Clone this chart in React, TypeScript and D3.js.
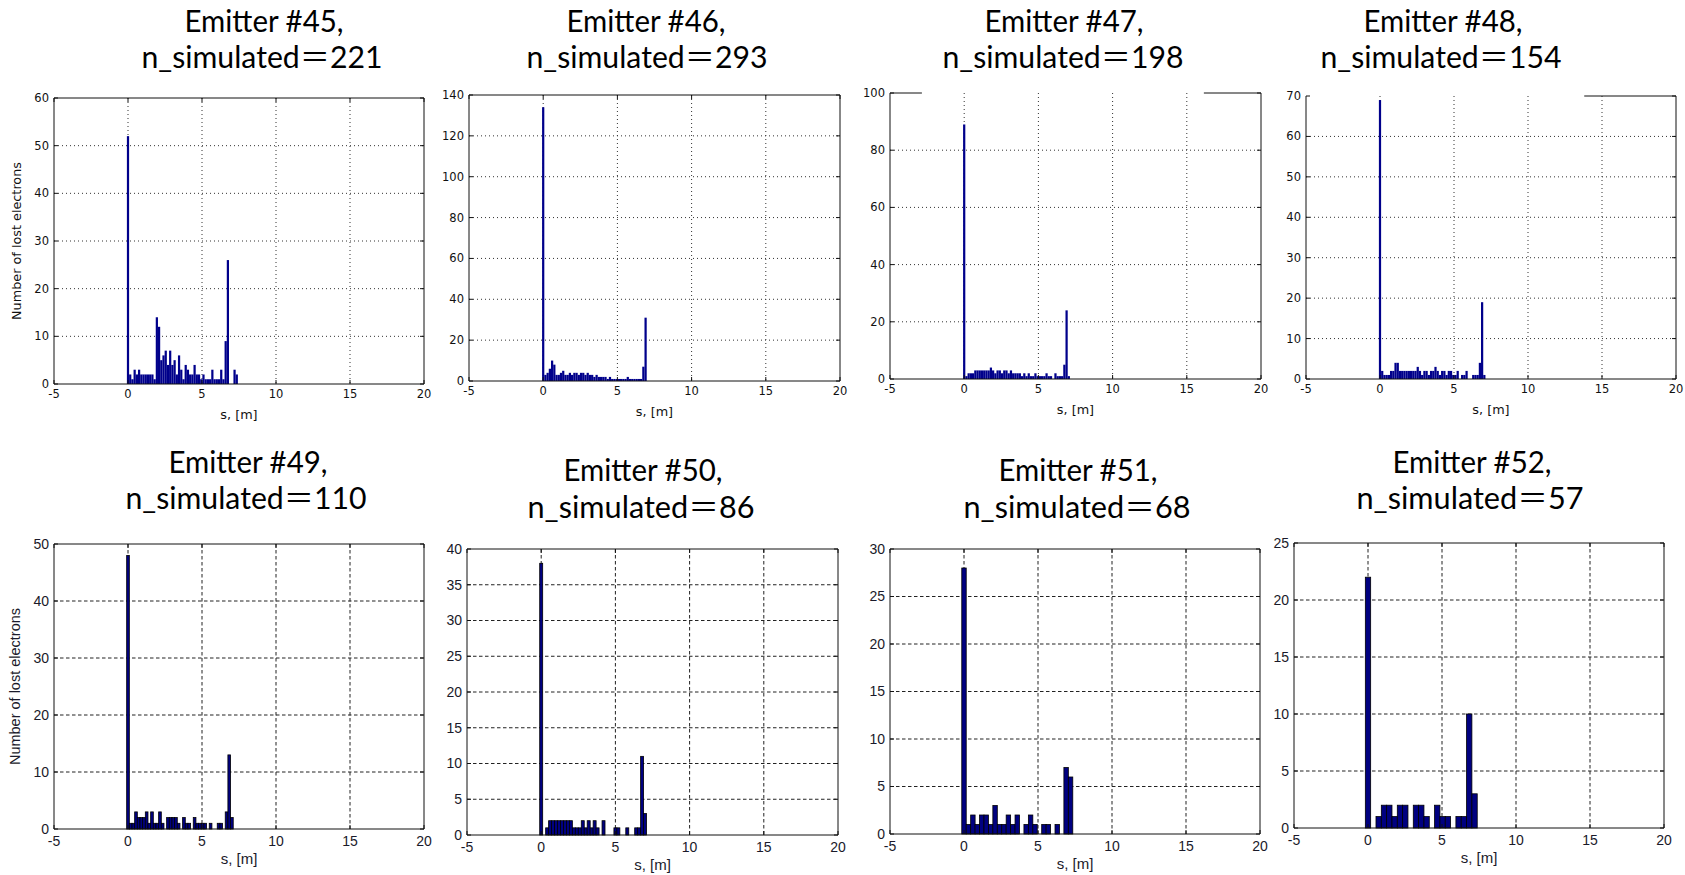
import React from 'react';
import * as d3 from 'd3';

// ---------------- DATA ----------------
const emitterIds = [45, 46, 47, 48, 49, 50, 51, 52];
const nSimulated = [221, 293, 198, 154, 110, 86, 68, 57];
const sTickValues = [-5, 0, 5, 10, 15, 20];
const sDomain = [-5, 20];
const binWidths = [0.15, 0.15, 0.15, 0.15, 0.18, 0.2, 0.3, 0.36];
const yMaxValues = [60, 140, 100, 70, 50, 40, 30, 25];
const yStepValues = [10, 20, 20, 10, 10, 5, 5, 5];
const xLabel = 's, [m]';
const yLabel = 'Number of lost electrons';

// counts per bin, first bin centred at s = 0
const lost45 = [52, 2, 1, 3, 2, 3, 2, 2, 2, 2, 2, 2, 1, 14, 12, 5, 6, 7, 4, 7, 4, 5, 2, 6, 3, 1, 4, 3, 2, 2, 4, 2, 2, 1, 2, 1, 1, 1, 3, 1, 1, 1, 3, 1, 9, 26, 0, 0, 3, 2];
const lost46 = [134, 3, 4, 6, 10, 8, 3, 3, 4, 5, 3, 3, 4, 3, 4, 4, 3, 4, 4, 3, 4, 3, 3, 2, 3, 2, 2, 2, 2, 1, 2, 1, 1, 1, 1, 1, 1, 1, 2, 1, 1, 1, 1, 1, 1, 7, 31];
const lost47 = [89, 1, 2, 2, 2, 3, 3, 3, 3, 3, 3, 3, 4, 3, 2, 3, 3, 2, 3, 3, 2, 3, 2, 2, 2, 2, 1, 2, 1, 2, 1, 1, 2, 1, 1, 1, 1, 2, 1, 1, 0, 2, 1, 1, 1, 5, 24, 1];
const lost48 = [69, 2, 1, 1, 1, 2, 2, 4, 4, 2, 2, 2, 2, 2, 2, 2, 2, 3, 2, 1, 2, 2, 1, 2, 2, 3, 2, 1, 2, 2, 1, 2, 2, 1, 1, 2, 0, 1, 1, 2, 0, 0, 1, 1, 1, 4, 19, 1];
const lost49 = [48, 1, 1, 3, 2, 2, 2, 3, 1, 3, 1, 1, 3, 1, 0, 2, 2, 2, 2, 1, 0, 2, 1, 1, 0, 2, 1, 1, 1, 1, 0, 1, 0, 0, 1, 1, 0, 3, 13, 2];
const lost50 = [38, 0, 1, 2, 2, 2, 2, 2, 2, 2, 2, 1, 1, 1, 2, 1, 2, 1, 2, 1, 0, 2, 0, 0, 0, 1, 1, 0, 0, 1, 0, 0, 1, 1, 11, 3];
const lost51 = [28, 1, 2, 1, 2, 2, 1, 3, 1, 1, 2, 1, 2, 0, 1, 2, 1, 0, 1, 1, 0, 1, 0, 7, 6];
const lost52 = [22, 0, 1, 2, 2, 1, 2, 2, 0, 2, 2, 1, 0, 2, 1, 1, 0, 1, 1, 10, 3];
const lostCounts = [lost45, lost46, lost47, lost48, lost49, lost50, lost51, lost52];

// ---------------- LAYOUT ----------------
type Lay = {
  L: number; R: number; T: number; B: number; row: number;
  t1x: number; t1y: number; t2x: number; t2y: number;
  topSegs: number[][] | null; yLab: boolean;
};
const layouts: Lay[] = [
  { L: 54, R: 424, T: 98, B: 384, row: 0, t1x: 264, t1y: 32, t2x: 262, t2y: 68, topSegs: null, yLab: true },
  { L: 469, R: 840, T: 95, B: 381, row: 0, t1x: 646, t1y: 32, t2x: 647, t2y: 68, topSegs: null, yLab: false },
  { L: 890, R: 1261, T: 93, B: 379, row: 0, t1x: 1064, t1y: 32, t2x: 1063, t2y: 68, topSegs: [[-5, -2.85], [16.15, 20]], yLab: false },
  { L: 1306, R: 1676, T: 96, B: 379, row: 0, t1x: 1443, t1y: 32, t2x: 1441, t2y: 68, topSegs: [[13.8, 20]], yLab: false },
  { L: 54, R: 424, T: 544, B: 829, row: 1, t1x: 248, t1y: 473, t2x: 246, t2y: 509, topSegs: null, yLab: true },
  { L: 467, R: 838, T: 549, B: 835, row: 1, t1x: 643, t1y: 481, t2x: 641, t2y: 518, topSegs: null, yLab: false },
  { L: 890, R: 1260, T: 549, B: 834, row: 1, t1x: 1078, t1y: 481, t2x: 1077, t2y: 518, topSegs: null, yLab: false },
  { L: 1294, R: 1664, T: 543, B: 828, row: 1, t1x: 1472, t1y: 473, t2x: 1470, t2y: 509, topSegs: null, yLab: false },
];

const topFont = '"DejaVu Sans", Verdana, sans-serif';
const bottomFont = '"Liberation Sans", Arial, sans-serif';
const titleFont = 'Lato, "Noto Sans", "Noto Sans CJK JP", sans-serif';

function Panel({ i }: { i: number }) {
  const lay = layouts[i];
  const top = lay.row === 0;
  const x = d3.scaleLinear().domain(sDomain).range([lay.L, lay.R]);
  const y = d3.scaleLinear().domain([0, yMaxValues[i]]).range([lay.B, lay.T]);
  const yTicks = d3.range(0, yMaxValues[i] + 1e-9, yStepValues[i]);
  const bw = binWidths[i];
  const bars = lostCounts[i]
    .map((c, k) => ({ c, x0: k * bw - bw / 2, x1: k * bw + bw / 2 }))
    .filter((d) => d.c > 0);

  const font = top ? topFont : bottomFont;
  const tickFs = top ? 11.5 : 14;
  const yLabFs = top ? 12.8 : 14.5;
  const xLabFs = top ? 12.8 : 15;
  const textCol = top ? '#111' : '#1a1a2a';
  const gridStroke = top ? '#333' : '#222';
  const gridDash = top ? '1 3' : '3.5 2.5';
  const frame = '#111';
  const tickLen = 4;
  const midX = (lay.L + lay.R) / 2;
  const midY = (lay.T + lay.B) / 2;

  const line2 = `n_simulated\uFF1D${nSimulated[i]}`;
  const line2Len = nSimulated[i] >= 100 ? 241 : 227;

  return (
    <g>
      {/* titles */}
      <text x={lay.t1x} y={lay.t1y} textAnchor="middle" fontFamily={titleFont} fontSize={30}
        fill="#000" textLength={159} lengthAdjust="spacingAndGlyphs">{`Emitter #${emitterIds[i]},`}</text>
      <text x={lay.t2x} y={lay.t2y} textAnchor="middle" fontFamily={titleFont} fontSize={30}
        fill="#000" textLength={line2Len} lengthAdjust="spacingAndGlyphs">{line2}</text>

      {/* grid */}
      {sTickValues.filter((v) => v > sDomain[0] && v < sDomain[1]).map((v) => (
        <line key={'gx' + v} x1={x(v)} x2={x(v)} y1={lay.T} y2={lay.B}
          stroke={gridStroke} strokeWidth={1} strokeDasharray={gridDash} />
      ))}
      {yTicks.filter((v) => v > 0 && v < yMaxValues[i]).map((v) => (
        <line key={'gy' + v} x1={lay.L} x2={lay.R} y1={y(v)} y2={y(v)}
          stroke={gridStroke} strokeWidth={1} strokeDasharray={gridDash} />
      ))}

      {/* bars */}
      {bars.map((d, k) => (
        <rect key={'b' + k} x={x(d.x0)} width={x(d.x1) - x(d.x0)} y={y(d.c)} height={y(0) - y(d.c)}
          fill={top ? '#00008B' : '#000080'} stroke={top ? 'none' : '#000'} strokeWidth={top ? 0 : 0.8} />
      ))}

      {/* frame */}
      <line x1={lay.L} x2={lay.L} y1={lay.T} y2={lay.B} stroke={frame} strokeWidth={1} />
      <line x1={lay.R} x2={lay.R} y1={lay.T} y2={lay.B} stroke={frame} strokeWidth={1} />
      <line x1={lay.L} x2={lay.R} y1={lay.B} y2={lay.B} stroke={frame} strokeWidth={1} />
      {lay.topSegs === null ? (
        <line x1={lay.L} x2={lay.R} y1={lay.T} y2={lay.T} stroke={frame} strokeWidth={1} />
      ) : (
        lay.topSegs.map((s, k) => (
          <line key={'ts' + k} x1={x(s[0])} x2={x(s[1])} y1={lay.T} y2={lay.T} stroke={frame} strokeWidth={1} />
        ))
      )}

      {/* tick marks */}
      {sTickValues.map((v) => (
        <g key={'tx' + v}>
          <line x1={x(v)} x2={x(v)} y1={lay.B} y2={lay.B - tickLen} stroke={frame} />
          {lay.topSegs === null && <line x1={x(v)} x2={x(v)} y1={lay.T} y2={lay.T + tickLen} stroke={frame} />}
        </g>
      ))}
      {yTicks.map((v) => (
        <g key={'ty' + v}>
          <line x1={lay.L} x2={lay.L + tickLen} y1={y(v)} y2={y(v)} stroke={frame} />
          <line x1={lay.R} x2={lay.R - tickLen} y1={y(v)} y2={y(v)} stroke={frame} />
        </g>
      ))}

      {/* tick labels */}
      {sTickValues.map((v) => (
        <text key={'lx' + v} x={x(v)} y={lay.B + (top ? 14 : 17)} textAnchor="middle"
          fontFamily={font} fontSize={tickFs} fill={textCol}>{v}</text>
      ))}
      {yTicks.map((v) => (
        <text key={'ly' + v} x={lay.L - 5} y={y(v)} dy="0.35em" textAnchor="end"
          fontFamily={font} fontSize={tickFs} fill={textCol}>{v}</text>
      ))}

      {/* axis labels */}
      <text x={midX} y={lay.B + 35} textAnchor="middle" fontFamily={font} fontSize={xLabFs} fill={textCol}>{xLabel}</text>
      {lay.yLab && (
        <text transform={`translate(${top ? 21 : 20},${midY}) rotate(-90)`} textAnchor="middle"
          fontFamily={font} fontSize={yLabFs} fill={textCol}>{yLabel}</text>
      )}
    </g>
  );
}

export default function App() {
  return (
    <svg width={1685} height={875} viewBox="0 0 1685 875"
      style={{ position: 'absolute', left: 0, top: 0, display: 'block', background: '#fff' }}>
      <rect x={0} y={0} width={1685} height={875} fill="#fff" />
      {layouts.map((_, i) => <Panel key={i} i={i} />)}
    </svg>
  );
}
